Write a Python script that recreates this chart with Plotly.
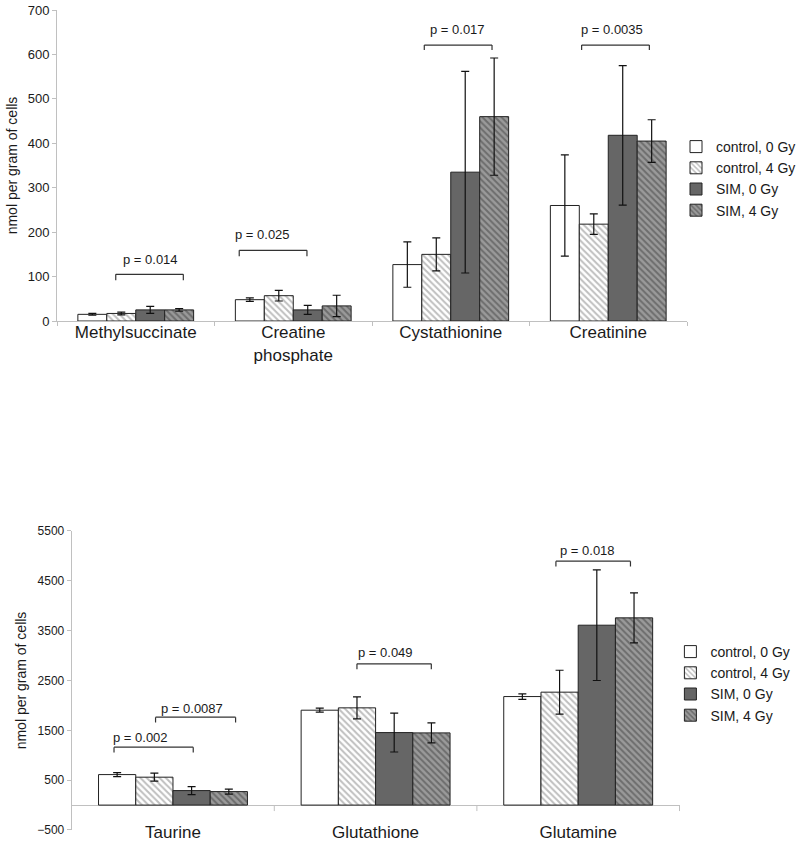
import plotly.graph_objects as go

# ---------------- data ----------------
series_names = ["control, 0 Gy", "control, 4 Gy", "SIM, 0 Gy", "SIM, 4 Gy"]

top_categories = ["Methylsuccinate", "Creatine<br>phosphate", "Cystathionine", "Creatinine"]
top_control0 = [15, 48, 127, 260]
top_control4 = [17, 57, 150, 218]
top_sim0 = [25, 25, 335, 418]
top_sim4 = [25, 34, 460, 405]
top_control0_err = [2, 4, 51, 114]
top_control4_err = [3, 12, 37, 23]
top_sim0_err = [8, 10, 227, 157]
top_sim4_err = [3, 24, 132, 48]

bot_categories = ["Taurine", "Glutathione", "Glutamine"]
bot_control0 = [612, 1904, 2178]
bot_control4 = [560, 1951, 2266]
bot_sim0 = [291, 1455, 3610]
bot_sim4 = [271, 1449, 3757]
bot_control0_err = [40, 40, 55]
bot_control4_err = [80, 220, 440]
bot_sim0_err = [80, 390, 1110]
bot_sim4_err = [50, 200, 500]

top_pvalues = ["p = 0.014", "p = 0.025", "p = 0.017", "p = 0.0035"]
bot_pvalues = ["p = 0.002", "p = 0.0087", "p = 0.049", "p = 0.018"]

# ---------------- styling ----------------
FONT = "Liberation Sans, Arial, sans-serif"
AXIS_GRAY = "#c0c0c0"
TEXT = "#1a1a1a"
BRACKET = "#333333"

styles = [
    dict(color="white", pattern=None),
    dict(color="white", pattern=dict(shape="\\", fgcolor="#808080", bgcolor="white", size=4.5, solidity=0.45)),
    dict(color="#666666", pattern=None),
    dict(color="#8e8e8e", pattern=dict(shape="\\", fgcolor="#404040", bgcolor="#9a9a9a", size=4.5, solidity=0.45)),
]

fig = go.Figure()


def add_bars(cats, vals_list, errs_list, xa, ya, legend, grp):
    for i, (name, vals, errs) in enumerate(zip(series_names, vals_list, errs_list)):
        st = styles[i]
        marker = dict(color=st["color"], line=dict(color="#222222", width=1))
        if st["pattern"]:
            marker["pattern"] = st["pattern"]
        fig.add_trace(go.Bar(
            x=cats, y=vals, name=name, marker=marker,
            error_y=dict(type="data", array=errs, color="#111111", thickness=1.2, width=4),
            xaxis=xa, yaxis=ya, legend=legend, offsetgroup=str(i), legendgroup=f"{grp}{i}",
        ))


add_bars(top_categories, [top_control0, top_control4, top_sim0, top_sim4],
         [top_control0_err, top_control4_err, top_sim0_err, top_sim4_err], "x", "y", "legend", "t")
add_bars(bot_categories, [bot_control0, bot_control4, bot_sim0, bot_sim4],
         [bot_control0_err, bot_control4_err, bot_sim0_err, bot_sim4_err], "x2", "y2", "legend2", "b")

# bracket geometry (x in category units, y in data units): x0, x1, top, low, text_x(left), text_y
top_brackets = [(-0.127, 0.302, 105, 92, -0.096, 139.5),
                (0.657, 1.087, 159, 146, 0.616, 193.6),
                (1.832, 2.262, 621, 610, 1.853, 656.5),
                (2.831, 3.261, 621, 610, 2.816, 656.5)]
bot_brackets = [(-0.291, 0.100, 1162, 1054, -0.308, 1355),
                (-0.086, 0.309, 1764, 1656, -0.068, 1937),
                (0.908, 1.275, 2834, 2727, 0.902, 3060),
                (1.890, 2.258, 4895, 4786, 1.901, 5101)]

shapes = []
annotations = []
for brs, pv, xr, yr in [(top_brackets, top_pvalues, "x", "y"), (bot_brackets, bot_pvalues, "x2", "y2")]:
    for (x0, x1, yt, yl, tx, ty), txt in zip(brs, pv):
        line = dict(color=BRACKET, width=1.2)
        shapes.append(dict(type="line", xref=xr, yref=yr, x0=x0, x1=x1, y0=yt, y1=yt, line=line))
        shapes.append(dict(type="line", xref=xr, yref=yr, x0=x0, x1=x0, y0=yt, y1=yl, line=line))
        shapes.append(dict(type="line", xref=xr, yref=yr, x0=x1, x1=x1, y0=yt, y1=yl, line=line))
        annotations.append(dict(text=txt, xref=xr, yref=yr, x=tx, y=ty, xanchor="left", yanchor="middle",
                                showarrow=False, font=dict(family=FONT, size=13, color=TEXT)))

# category separator ticks on the zero line of the lower chart
for k in range(len(bot_categories)):
    xb = k + 0.5
    shapes.append(dict(type="line", xref="x2", yref="y2", x0=xb, x1=xb, y0=0, y1=-120,
                       line=dict(color=AXIS_GRAY, width=1)))

fig.update_layout(
    width=800, height=842,
    margin=dict(l=0, r=0, t=0, b=0, autoexpand=False),
    paper_bgcolor="white", plot_bgcolor="white",
    barmode="group", bargap=0.265, bargroupgap=0,
    font=dict(family=FONT, color=TEXT),
    shapes=shapes, annotations=annotations,
    xaxis=dict(domain=[0.07125, 0.85875], anchor="y", showline=True, linecolor=AXIS_GRAY, linewidth=1,
               ticks="outside", tickson="boundaries", ticklen=4, tickcolor=AXIS_GRAY,
               tickfont=dict(size=17, color=TEXT, family=FONT), showgrid=False, zeroline=False,
               ticklabelstandoff=-4),
    yaxis=dict(domain=[0.61876, 0.98812], anchor="x", range=[0, 700], dtick=100, showline=True,
               linecolor=AXIS_GRAY, linewidth=1, ticks="outside", ticklen=4, tickcolor=AXIS_GRAY,
               tickfont=dict(size=13, color=TEXT, family=FONT), showgrid=False, zeroline=False,
               title=dict(text="nmol per gram of cells", font=dict(size=14, color=TEXT, family=FONT), standoff=6)),
    xaxis2=dict(domain=[0.0896, 0.85], anchor="y2", showline=False, ticks="",
                tickfont=dict(size=17, color=TEXT, family=FONT), showgrid=False, zeroline=False,
                ticklabelstandoff=-10),
    yaxis2=dict(domain=[0.01425, 0.36936], anchor="x2", range=[-500, 5500], tick0=-500, dtick=1000,
                showline=True, linecolor=AXIS_GRAY, linewidth=1, ticks="outside", ticklen=4, tickcolor=AXIS_GRAY,
                tickfont=dict(size=12, color=TEXT, family=FONT), showgrid=False,
                zeroline=True, zerolinecolor=AXIS_GRAY, zerolinewidth=1,
                title=dict(text="nmol per gram of cells", font=dict(size=14, color=TEXT, family=FONT), standoff=7)),
    legend=dict(x=0.845, y=1 - 131 / 842, xanchor="left", yanchor="top", font=dict(size=14, color=TEXT, family=FONT),
                bgcolor="rgba(0,0,0,0)", tracegroupgap=1, traceorder="normal"),
    legend2=dict(x=0.838, y=1 - 636 / 842, xanchor="left", yanchor="top", font=dict(size=14, color=TEXT, family=FONT),
                 bgcolor="rgba(0,0,0,0)", tracegroupgap=0, traceorder="normal"),
    showlegend=True,
)

fig.write_html("out.html", config={"displayModeBar": False},
               post_script="document.body.style.margin='0';document.body.style.overflow='hidden';")
